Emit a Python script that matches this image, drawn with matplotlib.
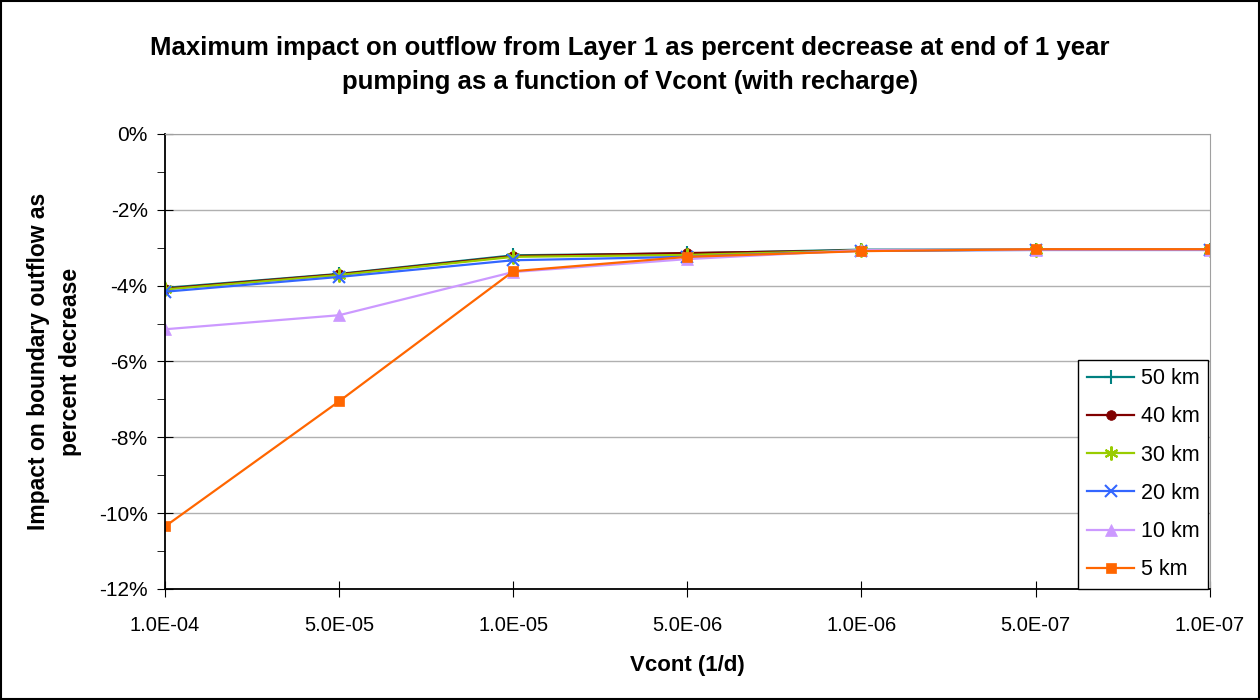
import numpy as np
import matplotlib.pyplot as plt
from matplotlib.patches import Rectangle
from matplotlib.ticker import MultipleLocator, FuncFormatter

plt.rcParams['font.family'] = ['Liberation Sans', 'DejaVu Sans']

VCONT = ["1.0E-04", "5.0E-05", "1.0E-05", "5.0E-06", "1.0E-06", "5.0E-07", "1.0E-07"]
LABELS = ["50 km", "40 km", "30 km", "20 km", "10 km", "5 km"]

km50 = [-4.06, -3.69, -3.20, -3.15, -3.05, -3.05, -3.05]
km40 = [-4.08, -3.70, -3.22, -3.14, -3.07, -3.05, -3.05]
km30 = [-4.10, -3.72, -3.24, -3.19, -3.07, -3.05, -3.05]
km20 = [-4.16, -3.77, -3.33, -3.24, -3.08, -3.06, -3.06]
km10 = [-5.15, -4.78, -3.64, -3.30, -3.06, -3.05, -3.05]
km5 = [-10.35, -7.05, -3.62, -3.24, -3.09, -3.04, -3.04]

SERIES = [km50, km40, km30, km20, km10, km5]
COLORS = ["#008080", "#800000", "#99CC00", "#3366FF", "#CC99FF", "#FF6600"]
MARKERS = ["+", "o", (6, 2, 0), "x", "^", "s"]
MSIZES = [10, 7, 10, 9, 8, 7]

fig = plt.figure(figsize=(12.6, 7), dpi=100)
ax = fig.add_axes([0.131, 0.1586, 0.829, 0.65])

x = np.arange(len(VCONT))
for vals, lab, c, m, ms in zip(SERIES, LABELS, COLORS, MARKERS, MSIZES):
    thin = m in ("+", "x") or isinstance(m, tuple)
    ax.plot(x, vals, color=c, marker=m, markersize=ms, linewidth=1.6,
            markeredgewidth=1.5 if thin else 0.5, label=lab)

ax.set_xlim(0, len(VCONT) - 1)
ax.set_ylim(-12, 0)
ax.set_xticks(x)
ax.set_xticklabels(VCONT)
ax.yaxis.set_major_locator(MultipleLocator(2))
ax.yaxis.set_minor_locator(MultipleLocator(1))
ax.yaxis.set_major_formatter(FuncFormatter(lambda v, p: f"{v:.0f}%"))
ax.tick_params(axis='y', which='major', direction='inout', length=11, labelsize=15, pad=7)
ax.tick_params(axis='y', which='minor', direction='out', length=5.5)
ax.tick_params(axis='x', which='major', direction='inout', length=11, labelsize=14.5, pad=14)
ax.grid(axis='y', which='major', color='#b0b0b0', linewidth=1)
ax.set_axisbelow(True)

for s in ['top', 'right']:
    ax.spines[s].set_color('#a0a0a0')
for s in ['left', 'bottom']:
    ax.spines[s].set_color('black')
    ax.spines[s].set_linewidth(1.3)

ax.set_xlabel("Vcont (1/d)", fontsize=16, fontweight='bold', labelpad=14)
ax.set_ylabel("Impact on boundary outflow as\npercent decrease", fontsize=16.5,
              fontweight='bold', labelpad=12, linespacing=1.5)

fig.text(0.5, 0.907, "Maximum impact on outflow from Layer 1 as percent decrease at end of 1 year\n"
         "pumping as a function of Vcont (with recharge)", ha='center', va='center',
         fontsize=18.5, fontweight='bold', linespacing=1.55)

leg = ax.legend(loc='lower right', bbox_to_anchor=(0.9985, 0.0), fontsize=15.5,
                frameon=True, fancybox=False, edgecolor='black', framealpha=1,
                handlelength=2.2, handletextpad=0.3, labelspacing=0.8,
                borderpad=0.4, borderaxespad=0.0)
leg.get_frame().set_linewidth(1)

fig.patches.append(Rectangle((0.001, 0.001), 0.998, 0.998, transform=fig.transFigure,
                             fill=False, edgecolor='black', linewidth=1.5))

fig.savefig("out.png", dpi=100)
